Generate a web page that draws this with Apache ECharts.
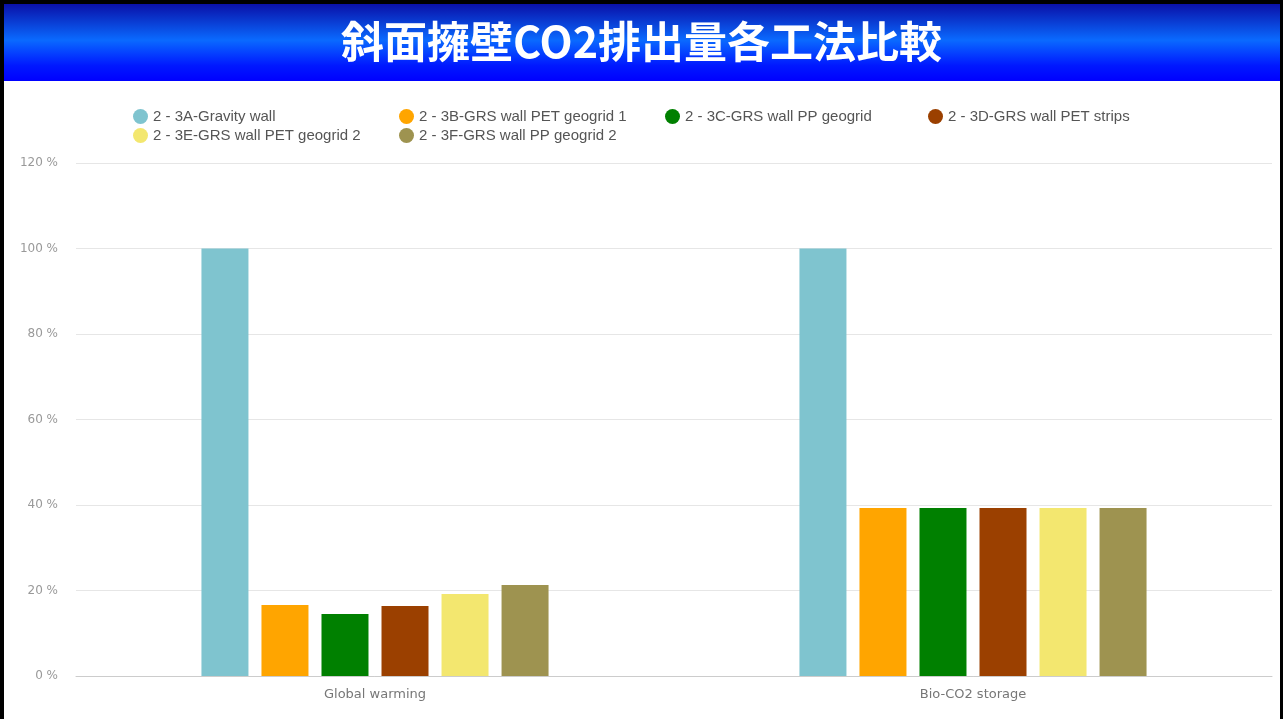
<!DOCTYPE html>
<html><head><meta charset="utf-8">
<style>html,body{margin:0;padding:0;background:#fff;}#c{width:1283px;height:719px;}</style>
<script src="https://cdn.jsdelivr.net/npm/echarts@6/dist/echarts.min.js"></script>
</head><body><div id="c"></div>
<script>
const titleText = '斜面擁壁CO2排出量各工法比較';
const categories = ['Global warming', 'Bio-CO2 storage'];
const seriesNames = ['2 - 3A-Gravity wall','2 - 3B-GRS wall PET geogrid 1','2 - 3C-GRS wall PP geogrid','2 - 3D-GRS wall PET strips','2 - 3E-GRS wall PET geogrid 2','2 - 3F-GRS wall PP geogrid 2'];
const valA = [100, 100];
const valB = [16.6, 39.3];
const valC = [14.5, 39.3];
const valD = [16.4, 39.3];
const valE = [19.2, 39.3];
const valF = [21.3, 39.3];
const seriesValues = [valA, valB, valC, valD, valE, valF];
const colors = ['#7fc4cf','#ffa500','#008000','#9b4000','#f3e76f','#9e9350'];
const yTicks = [0, 20, 40, 60, 80, 100, 120];

const legendPos = [[128,104],[394,104],[660,104],[923,104],[128,123],[394,123]];
const chart = echarts.init(document.getElementById('c'));
chart.setOption({
  animation:false,
  graphic:[
    {type:'rect', shape:{x:0,y:0,width:4,height:719}, style:{fill:'#000'}, z:-4, silent:true},
    {type:'rect', shape:{x:1280,y:0,width:3,height:719}, style:{fill:'#000'}, z:-4, silent:true},
    {type:'rect', shape:{x:0,y:0,width:1283,height:4}, style:{fill:'#000'}, z:-4, silent:true},
    {type:'rect', shape:{x:4,y:4,width:1276,height:77}, style:{fill:new echarts.graphic.LinearGradient(0,0,0,1,[
      {offset:0,color:'#0a10a8'},{offset:0.47,color:'#0a6aff'},{offset:0.8,color:'#0018ff'},{offset:1,color:'#0000ff'}])}, z:-5, silent:true}
  ],
  title:{text:titleText, left:'center', top:15, textStyle:{color:'#fff', fontSize:43, fontWeight:'bold', fontFamily:'Noto Sans CJK JP'}},
  color:colors,
  legend: seriesNames.map((n,i)=>({data:[n], left:legendPos[i][0], top:legendPos[i][1], icon:'circle', itemWidth:15, itemHeight:15, itemGap:10,
    textStyle:{color:'#555', fontSize:15, fontFamily:'Liberation Sans'}})),
  grid:{left:76, right:11, top:163, bottom:43, containLabel:false},
  xAxis:{type:'category', data:categories, axisTick:{show:false}, axisLine:{lineStyle:{color:'#cccccc'}},
    axisLabel:{color:'#777', fontSize:13, fontFamily:'DejaVu Sans', margin:12}},
  yAxis:{type:'value', min:0, max:120, interval:20, axisLine:{show:false}, axisTick:{show:false},
    splitLine:{lineStyle:{color:'#e6e6e6'}},
    axisLabel:{color:'#999', fontSize:12, fontFamily:'DejaVu Sans', margin:18, formatter:v=>yTicks.includes(v)? v+' %':''}},
  series: seriesNames.map((n,i)=>({name:n, type:'bar', data:seriesValues[i], barWidth:47, barGap:'27.7%', itemStyle:{color:colors[i]}}))
});
</script></body></html>
